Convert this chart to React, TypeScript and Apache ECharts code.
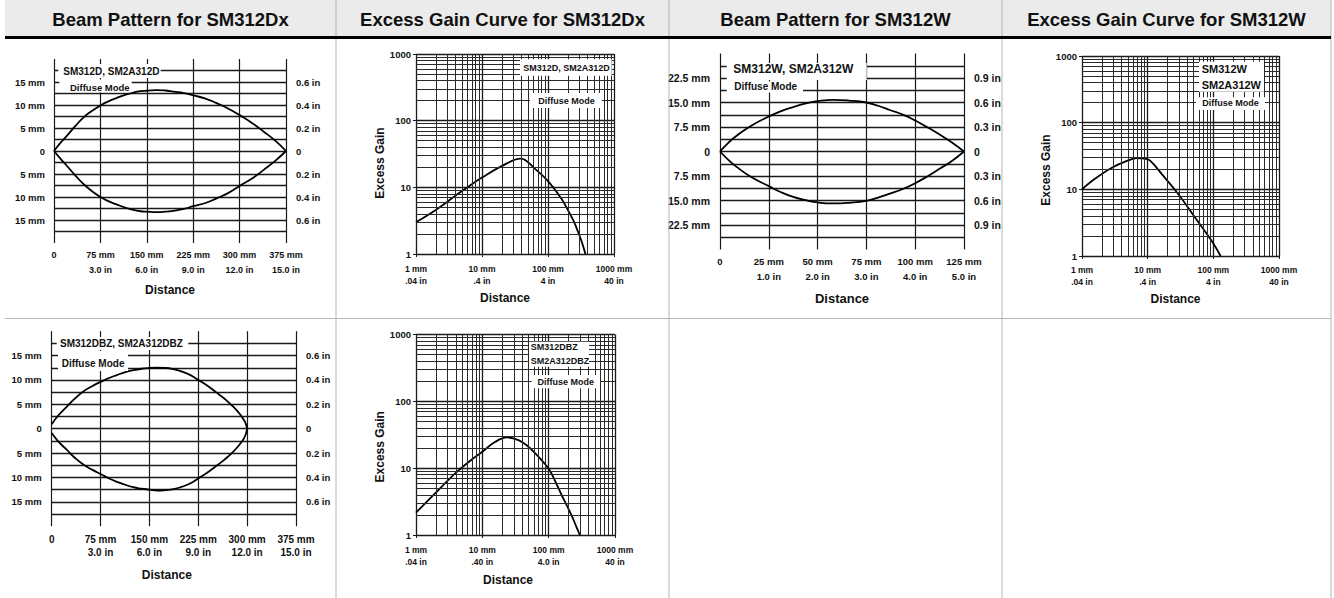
import React, { useEffect, useRef } from "react";
import * as echarts from "echarts";

const FONT = '"Liberation Sans", Arial, Helvetica, sans-serif';
const INK = "#111";
const GRID_DARK = "#1a1a1a";
const GRID_MINOR = "#2a2a2a";

// ---------- table headers ----------
const headerTitles = [
  "Beam Pattern for SM312Dx",
  "Excess Gain Curve for SM312Dx",
  "Beam Pattern for SM312W",
  "Excess Gain Curve for SM312W",
];

// ---------- beam pattern tick labels ----------
const beamDxTicks = [0, 75, 150, 225, 300, 375];
const beamDxLabels = ["0", "75 mm\n3.0 in", "150 mm\n6.0 in", "225 mm\n9.0 in", "300 mm\n12.0 in", "375 mm\n15.0 in"];
const beamDyTicks = [15, 10, 5, 0, -5, -10, -15];
const beamDyLeft = ["15 mm", "10 mm", "5 mm", "0", "5 mm", "10 mm", "15 mm"];
const beamDyRight = ["0.6 in", "0.4 in", "0.2 in", "0", "0.2 in", "0.4 in", "0.6 in"];

const beamWxTicks = [0, 25, 50, 75, 100, 125];
const beamWxLabels = ["0", "25 mm\n1.0 in", "50 mm\n2.0 in", "75 mm\n3.0 in", "100 mm\n4.0 in", "125 mm\n5.0 in"];
const beamWyTicks = [22.5, 15, 7.5, 0, -7.5, -15, -22.5];
const beamWyLeft = ["22.5 mm", "15.0 mm", "7.5 mm", "0", "7.5 mm", "15.0 mm", "22.5 mm"];
const beamWyRight = ["0.9 in", "0.6 in", "0.3 in", "0", "0.3 in", "0.6 in", "0.9 in"];

// ---------- excess gain tick labels ----------
const gainYLabels = ["1", "10", "100", "1000"];
const gainXLabelsA = ["1 mm\n.04 in", "10 mm\n.4 in", "100 mm\n4 in", "1000 mm\n40 in"];
const gainXLabelsB = ["1 mm\n.04 in", "10 mm\n.40 in", "100 mm\n4.0 in", "1000 mm\n40 in"];
const logMinorGrid = [2, 3, 4, 5, 6, 7, 8, 9, 20, 30, 40, 50, 60, 70, 80, 90, 200, 300, 400, 500, 600, 700, 800, 900];

// ---------- SM312D beam (mm) ----------
const p1Dist = [0, 10, 20, 35, 47, 60, 75, 88, 101, 115, 128, 140, 150, 166, 180, 193, 210, 225, 245, 263, 282, 300, 320, 339, 358, 375];
const p1Upper = [0, 1.7, 3.2, 5.5, 7.2, 8.6, 9.9, 10.8, 11.5, 12.2, 12.7, 13.0, 13.1, 13.25, 13.15, 12.9, 12.6, 12.1, 11.4, 10.4, 9.2, 7.8, 6.1, 4.2, 2.2, 0];
const p1Lower = [0, -1.6, -3.1, -5.4, -7.1, -8.6, -10.0, -10.9, -11.6, -12.3, -12.8, -13.1, -13.2, -13.3, -13.2, -13.0, -12.6, -12.0, -11.3, -10.3, -9.1, -7.6, -6.0, -4.1, -2.1, 0];

// ---------- SM312D excess gain ----------
const p2Dist = [1, 1.94, 3.9, 6.5, 10, 19.8, 38.7, 63, 100, 159, 202, 245, 286, 330, 369];
const p2Gain = [3.0, 4.5, 7.4, 10.6, 14.0, 20.8, 27, 19.1, 12.4, 6.8, 4.5, 3.1, 2.14, 1.45, 1];

// ---------- SM312W beam (mm) ----------
const p3Dist = [0, 4, 8.5, 16, 25, 31, 37.5, 44, 50, 58, 66, 75, 81, 87, 94, 100, 106, 112.5, 119, 125];
const p3Upper = [0, 2.5, 4.8, 7.9, 10.7, 12.3, 13.6, 14.7, 15.4, 15.8, 15.6, 15.0, 14.0, 12.7, 11.2, 9.5, 7.5, 5.2, 2.7, 0];
const p3Lower = [0, -2.4, -4.7, -7.8, -10.6, -12.4, -13.9, -14.9, -15.6, -15.9, -15.7, -15.1, -14.1, -12.9, -11.4, -9.7, -7.7, -5.3, -2.8, 0];

// ---------- SM312W excess gain ----------
const p4Dist = [1, 1.59, 2.85, 5.1, 6.8, 9.1, 10.8, 16.2, 29, 52, 93, 129];
const p4Gain = [10, 14.5, 21.1, 27.2, 29.5, 28.8, 27.2, 17.2, 8.6, 3.85, 1.72, 1];

// ---------- SM312DBZ beam (mm) ----------
const p5Dist = [0, 10, 23, 35, 48, 62, 75, 88, 100, 113, 125, 138, 150, 162, 175, 187, 200, 213, 225, 238, 253, 262, 270, 278, 285, 291, 295, 298, 300];
const p5Upper = [0.9, 2.7, 4.5, 6.1, 7.6, 8.7, 9.6, 10.4, 11.0, 11.6, 12.0, 12.3, 12.45, 12.5, 12.45, 12.2, 11.7, 11.0, 10.0, 8.9, 7.4, 6.5, 5.6, 4.6, 3.6, 2.6, 1.8, 1.0, 0];
const p5Lower = [-0.9, -2.6, -4.3, -5.9, -7.3, -8.4, -9.3, -10.2, -10.9, -11.5, -12.0, -12.3, -12.5, -12.7, -12.6, -12.4, -11.9, -11.2, -10.2, -9.1, -7.6, -6.7, -5.8, -4.8, -3.8, -2.8, -2.0, -1.1, 0];

// ---------- SM312DBZ excess gain ----------
const p6Dist = [1, 1.94, 3.9, 6.5, 10, 15.7, 23.6, 35, 48, 63, 100, 130, 158, 190, 225, 260, 295];
const p6Gain = [2.16, 4.2, 8.35, 12.8, 17.6, 24.8, 28.8, 26.3, 21.5, 16.6, 9.8, 5.9, 3.9, 2.7, 1.9, 1.35, 1];

const zip = (xs: number[], ys: number[]) => xs.map((x, i) => [x, ys[i]]);
const labelFor = (v: number, ticks: number[], labels: string[]) => {
  for (let i = 0; i < ticks.length; i++) if (Math.abs(v - ticks[i]) < 1e-6) return labels[i];
  return "";
};

function buildOption() {
  const grids: any[] = [];
  const xAxes: any[] = [];
  const yAxes: any[] = [];
  const series: any[] = [];

  const txt = (size: number, extra: any = {}) => ({
    fontSize: size,
    fontWeight: "bold",
    color: INK,
    fontFamily: FONT,
    ...extra,
  });

  function addBeam(p: any) {
    const gi = grids.length;
    grids.push({ left: p.left, top: p.top, width: p.width, height: p.height, containLabel: false, outerBoundsMode: "none" });
    const xi = xAxes.length;
    xAxes.push({
      type: "value",
      gridIndex: gi,
      min: 0,
      max: p.xMax,
      interval: p.xInterval,
      axisLine: { show: false },
      axisTick: { show: false },
      splitLine: { show: true, lineStyle: { color: GRID_DARK, width: 1.2 } },
      axisLabel: {
        ...txt(p.xFont),
        lineHeight: p.xLineHeight,
        margin: p.xMargin,
        showMinLabel: true,
        showMaxLabel: true,
        formatter: (v: number) => labelFor(v, p.xTicks, p.xLabels),
      },
      name: "Distance",
      nameLocation: "middle",
      nameGap: p.nameGap,
      nameTextStyle: txt(p.nameFont, { padding: [0, p.namePad, 0, 0] }),
    });
    const yi = yAxes.length;
    const yBase = {
      type: "value",
      gridIndex: gi,
      min: -p.yMax,
      max: p.yMax,
      interval: p.yInterval,
      axisLine: { show: false },
      axisTick: { show: false },
    };
    yAxes.push({
      ...yBase,
      position: "left",
      splitLine: { show: true, showMinLine: false, showMaxLine: false, lineStyle: { color: GRID_DARK, width: 1.3 } },
      axisLabel: { ...txt(p.yFont), margin: p.yMarginL, formatter: (v: number) => labelFor(v, p.yTicks, p.yLeft) },
    });
    yAxes.push({
      ...yBase,
      position: "right",
      splitLine: { show: false },
      axisLabel: { ...txt(p.yFont), margin: p.yMarginR, formatter: (v: number) => labelFor(v, p.yTicks, p.yRight) },
    });
    const lineCommon = {
      type: "line",
      xAxisIndex: xi,
      yAxisIndex: yi,
      showSymbol: false,
      symbol: "none",
      smooth: 0.5,
      silent: true,
      lineStyle: { color: "#000", width: 1.8 },
    };
    series.push({ ...lineCommon, data: zip(p.dist, p.upper) });
    series.push({ ...lineCommon, data: zip(p.dist, p.lower) });
  }

  function addGain(p: any) {
    const gi = grids.length;
    grids.push({ left: p.left, top: p.top, width: p.width, height: p.height, containLabel: false, outerBoundsMode: "none" });
    const xi = xAxes.length;
    xAxes.push({
      type: "log",
      logBase: 10,
      gridIndex: gi,
      min: 1,
      max: 1000,
      axisLine: { show: false },
      axisTick: { show: true, length: 3, lineStyle: { color: GRID_DARK, width: 1 } },
      splitLine: { show: true, lineStyle: { color: GRID_DARK, width: 1.3 } },
      axisLabel: {
        ...txt(p.xFont),
        lineHeight: p.xLineHeight,
        margin: p.xMargin,
        showMinLabel: true,
        showMaxLabel: true,
        formatter: (v: number) => p.xLabels[Math.round(Math.log10(v))] ?? "",
      },
      name: "Distance",
      nameLocation: "middle",
      nameGap: p.nameGapX,
      nameTextStyle: txt(12, { padding: [0, p.namePadX, 0, 0] }),
    });
    const yi = yAxes.length;
    yAxes.push({
      type: "log",
      logBase: 10,
      gridIndex: gi,
      min: 1,
      max: 1000,
      axisLine: { show: false },
      axisTick: { show: true, length: 3, lineStyle: { color: GRID_DARK, width: 1 } },
      splitLine: { show: true, lineStyle: { color: GRID_DARK, width: 1.3 } },
      axisLabel: {
        ...txt(p.yFont),
        margin: p.yMargin,
        formatter: (v: number) => gainYLabels[Math.round(Math.log10(v))] ?? "",
      },
      name: "Excess Gain",
      nameLocation: "middle",
      nameGap: p.nameGapY,
      nameTextStyle: txt(12, { padding: [0, p.namePadY, 0, 0] }),
    });
    series.push({
      type: "line",
      xAxisIndex: xi,
      yAxisIndex: yi,
      showSymbol: false,
      symbol: "none",
      smooth: 0.4,
      silent: true,
      lineStyle: { color: "#000", width: 1.8 },
      data: zip(p.dist, p.gain),
      markLine: {
        silent: true,
        symbol: ["none", "none"],
        label: { show: false },
        emphasis: { disabled: true },
        lineStyle: { type: "solid", color: GRID_MINOR, width: 1 },
        data: [
          ...logMinorGrid.map((v) => ({ xAxis: v })),
          ...logMinorGrid.map((v) => ({ yAxis: v })),
        ],
      },
    });
  }

  addBeam({
    left: 54, top: 59, width: 232, height: 184,
    xMax: 375, xInterval: 75, yMax: 20, yInterval: 2.5,
    dist: p1Dist, upper: p1Upper, lower: p1Lower,
    xTicks: beamDxTicks, xLabels: beamDxLabels,
    yTicks: beamDyTicks, yLeft: beamDyLeft, yRight: beamDyRight,
    yFont: 9.5, xFont: 9, xLineHeight: 15, xMargin: 4.5, yMarginL: 9, yMarginR: 10,
    nameGap: 41, namePad: 0, nameFont: 12,
  });
  addGain({
    left: 416, top: 54, width: 198, height: 200,
    dist: p2Dist, gain: p2Gain, xLabels: gainXLabelsA,
    xFont: 8.5, xLineHeight: 11.7, xMargin: 9.5, yFont: 9.5, yMargin: 5,
    nameGapX: 38, namePadX: 20, nameGapY: 28, namePadY: 18,
  });
  addBeam({
    left: 720, top: 53.5, width: 244, height: 196,
    xMax: 125, xInterval: 25, yMax: 30, yInterval: 3.75,
    dist: p3Dist, upper: p3Upper, lower: p3Lower,
    xTicks: beamWxTicks, xLabels: beamWxLabels,
    yTicks: beamWyTicks, yLeft: beamWyLeft, yRight: beamWyRight,
    yFont: 10.5, xFont: 9.5, xLineHeight: 15, xMargin: 4, yMarginL: 10, yMarginR: 10,
    nameGap: 42, namePad: 0, nameFont: 13,
  });
  addGain({
    left: 1082, top: 56, width: 197, height: 200,
    dist: p4Dist, gain: p4Gain, xLabels: gainXLabelsA,
    xFont: 8.5, xLineHeight: 11.7, xMargin: 8, yFont: 9.5, yMargin: 5,
    nameGapX: 37, namePadX: 10, nameGapY: 27, namePadY: 28,
  });
  addBeam({
    left: 51.7, top: 331.2, width: 244.3, height: 195,
    xMax: 375, xInterval: 75, yMax: 20, yInterval: 2.5,
    dist: p5Dist, upper: p5Upper, lower: p5Lower,
    xTicks: beamDxTicks, xLabels: beamDxLabels,
    yTicks: beamDyTicks, yLeft: beamDyLeft, yRight: beamDyRight,
    yFont: 9.5, xFont: 10, xLineHeight: 12.5, xMargin: 7.5, yMarginL: 10, yMarginR: 10,
    nameGap: 43, namePad: 14, nameFont: 12,
  });
  addGain({
    left: 416, top: 334.5, width: 199, height: 200.5,
    dist: p6Dist, gain: p6Gain, xLabels: gainXLabelsB,
    xFont: 8.5, xLineHeight: 11.7, xMargin: 9, yFont: 9.5, yMargin: 5,
    nameGapX: 39, namePadX: 15, nameGapY: 29, namePadY: 24,
  });

  // ---------- table frame & panel labels ----------
  const g: any[] = [];
  const colEdges = [5, 336, 669, 1002, 1331];
  g.push({ type: "rect", shape: { x: 5, y: 0, width: 1326, height: 36 }, style: { fill: "#ebebeb" }, silent: true, z: 1 });
  [336, 669, 1002, 1331].forEach((x) =>
    g.push({ type: "line", shape: { x1: x, y1: 0, x2: x, y2: 598 }, style: { stroke: "#b5b5b5", lineWidth: 1 }, silent: true, z: 2 })
  );
  g.push({ type: "line", shape: { x1: 5, y1: 318.5, x2: 1331, y2: 318.5 }, style: { stroke: "#b5b5b5", lineWidth: 1 }, silent: true, z: 2 });
  g.push({ type: "rect", shape: { x: 5, y: 36, width: 1326, height: 3 }, style: { fill: "#000" }, silent: true, z: 3 });
  headerTitles.forEach((t, i) =>
    g.push({
      type: "text",
      x: (colEdges[i] + colEdges[i + 1]) / 2,
      y: 19.5,
      silent: true,
      z: 4,
      style: { text: t, fill: INK, fontSize: 18.5, fontWeight: "bold", fontFamily: FONT, align: "center", verticalAlign: "middle" },
    })
  );

  const boxes = [
    [58.3, 64, 102.4, 14], [59.3, 79.5, 72.4, 12.8],
    [520, 59.3, 91.7, 16.4], [530, 93, 71.7, 15],
    [726.7, 63, 140, 17], [726.7, 81.5, 76.3, 11],
    [1199, 61.7, 65, 30], [1196, 97.3, 69, 12.7],
    [56.7, 337, 131.6, 13], [58, 351, 70, 20],
    [529, 341.7, 60, 25], [531.7, 375, 68.3, 13.3],
  ];
  boxes.forEach(([x, y, w, h]) =>
    g.push({ type: "rect", shape: { x, y, width: w, height: h }, style: { fill: "#fff" }, silent: true, z: 50 })
  );
  const labels: [string, number, number, number, string][] = [
    ["SM312D, SM2A312D", 63.3, 71.5, 10, "left"],
    ["Diffuse Mode", 70, 87.5, 9.5, "left"],
    ["SM312D, SM2A312D", 566.5, 67.5, 9, "center"],
    ["Diffuse Mode", 566.5, 100.8, 9, "center"],
    ["SM312W, SM2A312W", 733.3, 69, 12, "left"],
    ["Diffuse Mode", 734.3, 86.7, 10, "left"],
    ["SM312W", 1201.7, 69.3, 11, "left"],
    ["SM2A312W", 1201.7, 85, 11, "left"],
    ["Diffuse Mode", 1230.5, 102.7, 9, "center"],
    ["SM312DBZ, SM2A312DBZ", 60, 343.3, 10, "left"],
    ["Diffuse Mode", 61.7, 363.3, 10, "left"],
    ["SM312DBZ", 530.7, 347.3, 9, "left"],
    ["SM2A312DBZ", 530.7, 360.7, 9, "left"],
    ["Diffuse Mode", 565.8, 381.7, 9, "center"],
  ];
  labels.forEach(([t, x, y, s, a]) =>
    g.push({
      type: "text",
      x,
      y,
      silent: true,
      z: 51,
      style: { text: t, fill: INK, fontSize: s, fontWeight: "bold", fontFamily: FONT, align: a, verticalAlign: "middle" },
    })
  );

  return {
    animation: false,
    backgroundColor: "#fff",
    grid: grids,
    xAxis: xAxes,
    yAxis: yAxes,
    series,
    graphic: { elements: g },
  };
}

export default function App() {
  const ref = useRef<HTMLDivElement>(null);
  useEffect(() => {
    document.body.style.margin = "0";
    const chart = echarts.init(ref.current as HTMLDivElement, null, { renderer: "svg" });
    chart.setOption(buildOption() as any);
    return () => chart.dispose();
  }, []);
  return <div ref={ref} style={{ width: 1334, height: 598 }} />;
}
